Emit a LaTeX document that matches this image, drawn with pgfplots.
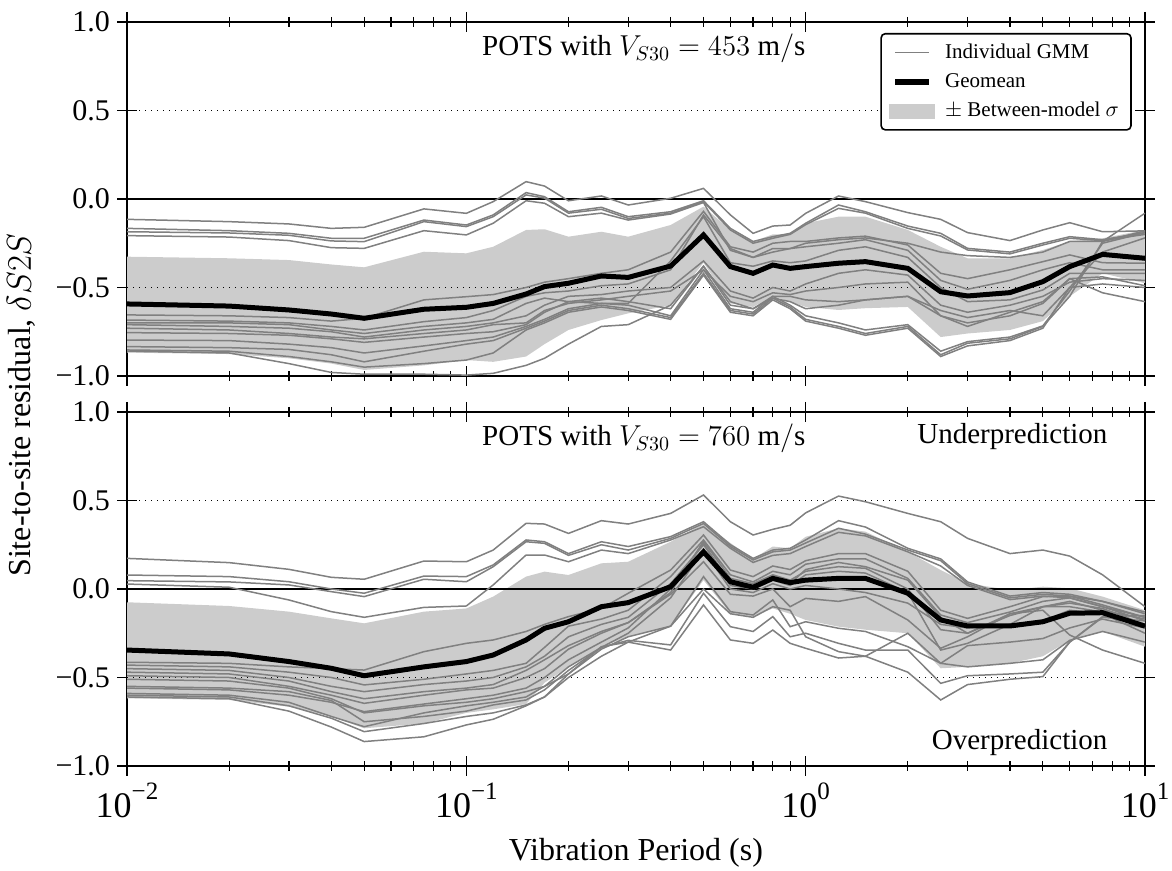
\documentclass[border=0pt]{standalone}
\usepackage{fontspec}
\setmainfont{Liberation Serif}
\usepackage{pgfplots}
\usepackage{pgfplotstable}
\pgfplotsset{compat=1.18}
\usepgfplotslibrary{fillbetween}
\definecolor{gmmgray}{RGB}{128,128,128}
\definecolor{bandgray}{RGB}{204,204,204}

% V_S30 = 453 m/s: period, geomean, band (+/- sigma), 14 individual GMMs
\pgfplotstableread{
T geo up lo s1 s2 s3 s4 s5 s6 s7 s8 s9 s10 s11 s12 s13 s14
0.01 -0.593 -0.326 -0.868 -0.115 -0.166 -0.185 -0.207 -0.655 -0.684 -0.700 -0.710 -0.730 -0.755 -0.797 -0.834 -0.853 -0.860
0.02 -0.605 -0.335 -0.876 -0.128 -0.179 -0.192 -0.215 -0.660 -0.690 -0.700 -0.720 -0.740 -0.760 -0.800 -0.840 -0.860 -0.870
0.03 -0.627 -0.345 -0.900 -0.141 -0.194 -0.205 -0.235 -0.670 -0.700 -0.710 -0.730 -0.760 -0.770 -0.820 -0.850 -0.890 -0.930
0.04 -0.650 -0.370 -0.930 -0.166 -0.222 -0.237 -0.275 -0.690 -0.720 -0.740 -0.750 -0.780 -0.790 -0.840 -0.880 -0.920 -0.980
0.05 -0.674 -0.386 -0.966 -0.160 -0.222 -0.241 -0.279 -0.674 -0.740 -0.760 -0.780 -0.790 -0.810 -0.870 -0.920 -0.950 -0.990
0.075 -0.623 -0.298 -0.940 -0.056 -0.119 -0.128 -0.179 -0.570 -0.693 -0.720 -0.740 -0.760 -0.780 -0.830 -0.860 -0.930 -0.990
0.1 -0.612 -0.307 -0.910 -0.081 -0.147 -0.156 -0.203 -0.552 -0.670 -0.700 -0.720 -0.740 -0.760 -0.800 -0.820 -0.910 -0.995
0.12 -0.590 -0.270 -0.920 -0.015 -0.090 -0.100 -0.137 -0.540 -0.630 -0.680 -0.700 -0.710 -0.750 -0.780 -0.800 -0.870 -0.985
0.15 -0.537 -0.175 -0.890 0.098 0.036 0.023 -0.010 -0.500 -0.550 -0.590 -0.660 -0.700 -0.710 -0.720 -0.730 -0.740 -0.940
0.17 -0.495 -0.171 -0.820 0.073 0.013 0.005 -0.024 -0.470 -0.530 -0.560 -0.600 -0.630 -0.640 -0.680 -0.690 -0.700 -0.900
0.2 -0.476 -0.213 -0.740 -0.010 -0.072 -0.080 -0.100 -0.450 -0.520 -0.580 -0.550 -0.590 -0.580 -0.620 -0.630 -0.640 -0.820
0.25 -0.435 -0.185 -0.684 0.017 -0.047 -0.058 -0.080 -0.420 -0.490 -0.590 -0.540 -0.570 -0.560 -0.590 -0.600 -0.610 -0.720
0.3 -0.443 -0.213 -0.646 -0.034 -0.100 -0.110 -0.119 -0.400 -0.480 -0.590 -0.520 -0.550 -0.580 -0.600 -0.620 -0.630 -0.710
0.4 -0.379 -0.147 -0.600 0.004 -0.072 -0.080 -0.085 -0.300 -0.400 -0.350 -0.500 -0.520 -0.620 -0.660 -0.670 -0.680 -0.600
0.5 -0.203 -0.043 -0.360 0.060 -0.010 -0.015 -0.020 -0.070 -0.090 -0.100 -0.350 -0.400 -0.380 -0.400 -0.420 -0.430 -0.380
0.6 -0.382 -0.175 -0.590 -0.090 -0.166 -0.175 -0.290 -0.270 -0.280 -0.360 -0.520 -0.550 -0.600 -0.620 -0.630 -0.640 -0.580
0.7 -0.420 -0.240 -0.610 -0.194 -0.240 -0.250 -0.330 -0.300 -0.330 -0.380 -0.560 -0.580 -0.620 -0.640 -0.650 -0.660 -0.620
0.8 -0.373 -0.200 -0.550 -0.153 -0.213 -0.222 -0.300 -0.250 -0.280 -0.350 -0.500 -0.530 -0.560 -0.550 -0.560 -0.570 -0.550
0.9 -0.392 -0.200 -0.580 -0.147 -0.194 -0.200 -0.280 -0.240 -0.280 -0.360 -0.520 -0.540 -0.580 -0.600 -0.610 -0.620 -0.550
1.0 -0.382 -0.137 -0.610 -0.081 -0.137 -0.145 -0.250 -0.240 -0.270 -0.350 -0.480 -0.520 -0.620 -0.660 -0.680 -0.690 -0.570
1.25 -0.363 -0.100 -0.627 0.017 -0.034 -0.053 -0.230 -0.220 -0.250 -0.290 -0.420 -0.500 -0.600 -0.700 -0.720 -0.730 -0.580
1.5 -0.354 -0.100 -0.617 -0.015 -0.072 -0.080 -0.220 -0.210 -0.230 -0.270 -0.400 -0.480 -0.570 -0.740 -0.760 -0.770 -0.570
2 -0.392 -0.175 -0.610 -0.077 -0.153 -0.166 -0.250 -0.260 -0.290 -0.330 -0.430 -0.470 -0.550 -0.710 -0.720 -0.730 -0.550
2.5 -0.524 -0.270 -0.780 -0.115 -0.194 -0.209 -0.300 -0.420 -0.460 -0.500 -0.600 -0.660 -0.630 -0.860 -0.880 -0.890 -0.660
3 -0.548 -0.335 -0.760 -0.190 -0.279 -0.288 -0.320 -0.450 -0.510 -0.580 -0.640 -0.700 -0.670 -0.806 -0.815 -0.830 -0.720
4 -0.529 -0.335 -0.740 -0.235 -0.300 -0.310 -0.330 -0.400 -0.460 -0.570 -0.600 -0.660 -0.630 -0.780 -0.790 -0.800 -0.640
5 -0.467 -0.288 -0.690 -0.175 -0.250 -0.260 -0.300 -0.354 -0.400 -0.514 -0.550 -0.590 -0.660 -0.717 -0.720 -0.730 -0.580
6 -0.382 -0.240 -0.550 -0.134 -0.213 -0.222 -0.240 -0.316 -0.360 -0.420 -0.470 -0.450 -0.500 -0.520 -0.550 -0.500 -0.450
7.5 -0.313 -0.222 -0.420 -0.185 -0.230 -0.235 -0.240 -0.360 -0.400 -0.420 -0.450 -0.440 -0.480 -0.250 -0.240 -0.300 -0.530
10 -0.335 -0.175 -0.476 -0.180 -0.190 -0.200 -0.180 -0.363 -0.400 -0.420 -0.460 -0.490 -0.500 -0.190 -0.080 -0.220 -0.580
}\toptab

% V_S30 = 760 m/s: period, geomean, band (+/- sigma), 15 individual GMMs
\pgfplotstableread{
T geo up lo s1 s2 s3 s4 s5 s6 s7 s8 s9 s10 s11 s12 s13 s14 s15
0.01 -0.345 -0.075 -0.618 0.173 0.079 0.047 0.028 -0.414 -0.430 -0.450 -0.470 -0.510 -0.550 -0.600 -0.490 -0.560 -0.590 -0.610
0.02 -0.367 -0.096 -0.627 0.149 0.070 0.040 0.010 -0.420 -0.440 -0.460 -0.480 -0.520 -0.560 -0.610 -0.500 -0.570 -0.600 -0.620
0.03 -0.410 -0.128 -0.665 0.111 0.041 0.023 -0.062 -0.440 -0.470 -0.500 -0.520 -0.560 -0.580 -0.660 -0.550 -0.600 -0.640 -0.690
0.04 -0.448 -0.166 -0.720 0.066 0.000 -0.015 -0.128 -0.450 -0.500 -0.550 -0.580 -0.620 -0.630 -0.730 -0.600 -0.640 -0.720 -0.780
0.05 -0.490 -0.194 -0.787 0.055 -0.024 -0.043 -0.160 -0.458 -0.542 -0.580 -0.620 -0.700 -0.750 -0.806 -0.646 -0.693 -0.778 -0.862
0.075 -0.440 -0.128 -0.760 0.158 0.073 0.055 -0.104 -0.354 -0.510 -0.540 -0.580 -0.660 -0.720 -0.760 -0.600 -0.650 -0.700 -0.835
0.1 -0.410 -0.110 -0.700 0.154 0.070 0.041 -0.096 -0.307 -0.480 -0.520 -0.560 -0.640 -0.690 -0.720 -0.570 -0.620 -0.660 -0.768
0.12 -0.373 -0.043 -0.680 0.220 0.136 0.126 0.023 -0.288 -0.460 -0.500 -0.540 -0.620 -0.655 -0.700 -0.560 -0.600 -0.640 -0.736
0.15 -0.288 0.070 -0.650 0.371 0.277 0.267 0.192 -0.240 -0.420 -0.440 -0.460 -0.580 -0.627 -0.655 -0.500 -0.560 -0.610 -0.660
0.17 -0.222 0.098 -0.530 0.367 0.267 0.258 0.192 -0.200 -0.330 -0.380 -0.400 -0.550 -0.570 -0.610 -0.450 -0.500 -0.550 -0.610
0.2 -0.185 0.079 -0.440 0.314 0.200 0.190 0.154 -0.156 -0.210 -0.270 -0.320 -0.480 -0.460 -0.500 -0.340 -0.400 -0.440 -0.480
0.25 -0.100 0.145 -0.326 0.386 0.267 0.250 0.220 -0.110 -0.170 -0.200 -0.240 -0.340 -0.330 -0.380 -0.250 -0.300 -0.330 -0.326
0.3 -0.077 0.154 -0.270 0.367 0.240 0.220 0.200 -0.024 -0.120 -0.160 -0.190 -0.270 -0.290 -0.300 -0.190 -0.220 -0.250 -0.300
0.4 0.013 0.267 -0.210 0.427 0.296 0.286 0.277 0.107 0.070 0.030 -0.030 -0.210 -0.316 -0.345 -0.020 0.000 -0.050 -0.210
0.5 0.210 0.370 0.050 0.531 0.380 0.370 0.352 0.305 0.277 0.250 0.154 0.070 -0.024 -0.090 0.270 0.260 0.220 0.000
0.6 0.041 0.260 -0.140 0.380 0.250 0.240 0.230 0.107 0.080 0.040 -0.030 -0.128 -0.213 -0.288 0.060 0.020 0.000 -0.140
0.7 0.010 0.170 -0.156 0.305 0.173 0.164 0.150 0.070 0.040 0.010 -0.040 -0.147 -0.240 -0.307 0.030 0.000 -0.020 -0.160
0.8 0.060 0.240 -0.110 0.337 0.220 0.210 0.190 0.130 0.100 0.060 0.000 -0.062 -0.156 -0.232 0.080 0.050 0.030 -0.100
0.9 0.036 0.230 -0.140 0.360 0.230 0.220 0.200 0.110 0.080 0.030 -0.100 -0.213 -0.270 -0.307 0.050 0.020 0.000 -0.120
1.0 0.050 0.295 -0.175 0.430 0.277 0.260 0.240 0.160 0.140 0.110 -0.053 -0.185 -0.250 -0.335 0.100 0.080 0.020 -0.270
1.25 0.060 0.343 -0.213 0.525 0.386 0.343 0.320 0.200 0.170 0.150 -0.070 -0.222 -0.307 -0.390 0.126 0.100 0.000 -0.354
1.5 0.060 0.324 -0.230 0.493 0.350 0.310 0.300 0.200 0.170 0.126 -0.043 -0.240 -0.345 -0.380 0.117 0.090 -0.020 -0.380
2 -0.024 0.210 -0.250 0.427 0.230 0.220 0.210 0.100 0.060 0.050 -0.175 -0.326 -0.345 -0.470 0.000 -0.020 -0.080 -0.250
2.5 -0.175 0.107 -0.448 0.380 0.170 0.160 0.130 -0.120 -0.147 -0.160 -0.335 -0.420 -0.533 -0.627 -0.230 -0.345 -0.200 -0.420
3 -0.209 0.032 -0.440 0.286 0.040 0.030 0.020 -0.166 -0.190 -0.250 -0.270 -0.320 -0.490 -0.540 -0.250 -0.307 -0.220 -0.440
4 -0.209 -0.006 -0.420 0.200 -0.040 -0.050 -0.060 -0.100 -0.130 -0.150 -0.140 -0.300 -0.480 -0.510 -0.140 -0.200 -0.200 -0.420
5 -0.185 0.013 -0.380 0.220 -0.020 -0.030 -0.040 -0.043 -0.070 -0.100 -0.100 -0.280 -0.470 -0.495 -0.120 -0.100 -0.180 -0.400
6 -0.137 0.004 -0.290 0.186 -0.030 -0.040 -0.050 -0.040 -0.050 -0.080 -0.100 -0.220 -0.300 -0.300 -0.260 -0.070 -0.120 -0.290
7.5 -0.134 -0.043 -0.240 0.080 -0.070 -0.090 -0.100 -0.070 -0.100 -0.110 -0.130 -0.170 -0.156 -0.160 -0.345 -0.120 -0.140 -0.240
10 -0.210 -0.120 -0.326 -0.100 -0.140 -0.160 -0.180 -0.130 -0.160 -0.200 -0.200 -0.220 -0.150 -0.180 -0.420 -0.170 -0.250 -0.300
}\bottab

\pgfplotsset{
  mygmm/.style={gmmgray, line width=0.75pt, forget plot},
  mygeo/.style={black, line width=2.5pt, forget plot},
  myzero/.style={black, line width=0.7pt, forget plot},
  myhalf/.style={black, line width=0.5pt, dash pattern=on 0.6pt off 2.4pt, forget plot},
}

\newcommand{\expo}[1]{\raisebox{9pt}{\fontsize{12.5}{14}\selectfont #1}}

\begin{document}
\begin{tikzpicture}

% top panel: POTS with Vs30 = 453 m/s
\begin{axis}[
  at={(0pt,195pt)}, anchor=south west,
  xmode=log, scale only axis, width=509pt, height=177pt,
  xmin=0.01, xmax=10, ymin=-1, ymax=1,
  xtick={0.01,0.1,1,10},
  minor xtick={0.02,0.03,0.04,0.05,0.06,0.07,0.08,0.09,0.2,0.3,0.4,0.5,0.6,0.7,0.8,0.9,2,3,4,5,6,7,8,9},
  xticklabels={,,,},
  ytick={-1,-0.5,0,0.5,1},
  yticklabels={−1.0,−0.5,0.0,0.5,1.0},
  tick align=center, major tick length=10pt, minor tick length=5pt,
  axis line style={line width=0.8pt},
  every tick/.style={black, line width=0.6pt},
  yticklabel style={font=\fontsize{15}{18}\selectfont},
  legend style={at={(0.987,0.969)}, anchor=north east, draw=black,
    line width=0.8pt, rounded corners=2pt,
    font=\fontsize{10.5}{12}\selectfont,
    row sep=2pt, column sep=3pt, inner xsep=4pt, inner ysep=3pt},
  legend cell align=left]
  \addplot[draw=none, name path=tu, forget plot] table[x=T, y=up] {\toptab};
  \addplot[draw=none, name path=tl, forget plot] table[x=T, y=lo] {\toptab};
  \addplot[bandgray, forget plot] fill between[of=tu and tl];
  \addplot[myhalf] coordinates {(0.01,0.5) (10,0.5)};
  \addplot[myhalf] coordinates {(0.01,-0.5) (10,-0.5)};
  \addplot[myzero] coordinates {(0.01,0) (10,0)};
  \pgfplotsinvokeforeach{s1,s2,s3,s4,s5,s6,s7,s8,s9,s10,s11,s12,s13,s14}{
    \addplot[mygmm] table[x=T, y=#1] {\toptab};
  }
  \addplot[mygeo] table[x=T, y=geo] {\toptab};
  \addlegendimage{gmmgray, line width=0.9pt}
  \addlegendentry{Individual GMM}
  \addlegendimage{black, line width=3pt}
  \addlegendentry{Geomean}
  \addlegendimage{legend image code/.code={\path[fill=bandgray, draw=none, sharp corners] (-3pt,-3.75pt) rectangle (20pt,3.75pt);}}
  \addlegendentry{$\pm$ Between-model $\sigma$}
  \node[anchor=base west, font=\fontsize{14.5}{17}\selectfont]
    at (rel axis cs:0.342,0.904) {POTS with $V_{S30} = 453\ \mathrm{m/s}$};
\end{axis}

% bottom panel: POTS with Vs30 = 760 m/s
\begin{axis}[
  at={(0pt,0pt)}, anchor=south west,
  xmode=log, scale only axis, width=509pt, height=177pt,
  xmin=0.01, xmax=10, ymin=-1, ymax=1,
  xtick={0.01,0.1,1,10},
  minor xtick={0.02,0.03,0.04,0.05,0.06,0.07,0.08,0.09,0.2,0.3,0.4,0.5,0.6,0.7,0.8,0.9,2,3,4,5,6,7,8,9},
  xticklabels={10\expo{−2},10\expo{−1},10\expo{0},10\expo{1}},
  xticklabel style={font=\fontsize{18}{21}\selectfont},
  ytick={-1,-0.5,0,0.5,1},
  yticklabels={−1.0,−0.5,0.0,0.5,1.0},
  tick align=center, major tick length=10pt, minor tick length=5pt,
  axis line style={line width=0.8pt},
  every tick/.style={black, line width=0.6pt},
  yticklabel style={font=\fontsize{15}{18}\selectfont}]
  \addplot[draw=none, name path=bu, forget plot] table[x=T, y=up] {\bottab};
  \addplot[draw=none, name path=bl, forget plot] table[x=T, y=lo] {\bottab};
  \addplot[bandgray, forget plot] fill between[of=bu and bl];
  \addplot[myhalf] coordinates {(0.01,0.5) (10,0.5)};
  \addplot[myhalf] coordinates {(0.01,-0.5) (10,-0.5)};
  \addplot[myzero] coordinates {(0.01,0) (10,0)};
  \pgfplotsinvokeforeach{s1,s2,s3,s4,s5,s6,s7,s8,s9,s10,s11,s12,s13,s14,s15}{
    \addplot[mygmm] table[x=T, y=#1] {\bottab};
  }
  \addplot[mygeo] table[x=T, y=geo] {\bottab};
  \node[anchor=base west, font=\fontsize{14.5}{17}\selectfont]
    at (rel axis cs:0.342,0.904) {POTS with $V_{S30} = 760\ \mathrm{m/s}$};
  \node[anchor=base east, font=\fontsize{14.5}{17}\selectfont]
    at (rel axis cs:0.970,0.912) {Underprediction};
  \node[anchor=base east, font=\fontsize{14.5}{17}\selectfont]
    at (rel axis cs:0.970,0.048) {Overprediction};
\end{axis}

\node[anchor=base, font=\fontsize{16}{19}\selectfont] at (254.5pt,-47.5pt) {Vibration Period (s)};
\node[anchor=base, rotate=90, font=\fontsize{16}{19}\selectfont] at (-48pt,180.5pt) {Site-to-site residual, $\delta S2S$};

\pgfresetboundingbox
\useasboundingbox (-63.5pt,-52.5pt) rectangle (522.5pt,383pt);
\end{tikzpicture}
\end{document}
